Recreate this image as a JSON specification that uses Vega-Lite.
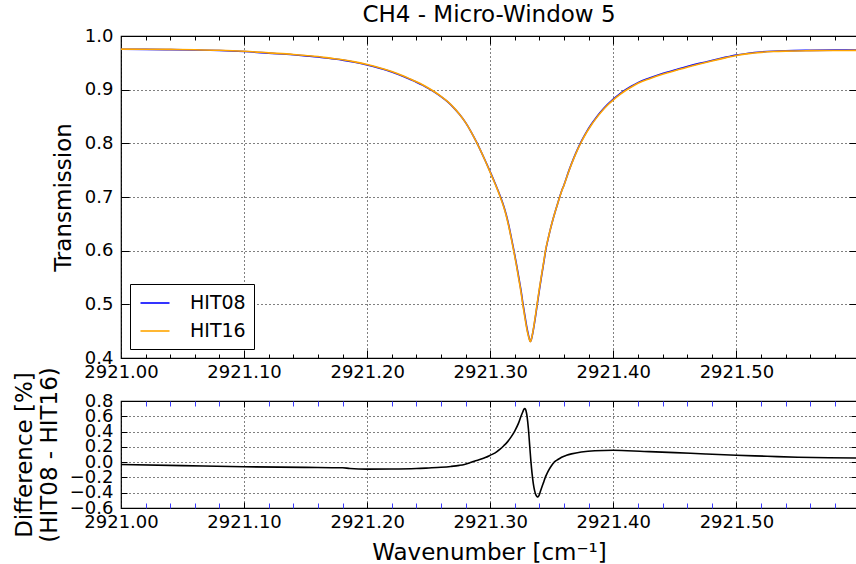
{
  "$schema": "https://vega.github.io/schema/vega-lite/v6.json",
  "background": "white",
  "padding": {"left": 12, "top": 3, "right": 0, "bottom": 0},
  "config": {
    "font": "DejaVu Sans",
    "view": {"stroke": "black", "strokeWidth": 1.2},
    "axis": {
      "labelFont": "DejaVu Sans", "labelFontSize": 18, "labelColor": "black",
      "titleFont": "DejaVu Sans", "titleFontSize": 23, "titleFontWeight": "normal", "titleColor": "black",
      "domain": false, "gridColor": "black", "gridDash": [1, 3], "gridWidth": 1, "gridOpacity": 1,
      "tickColor": "black", "tickWidth": 1, "labelOverlap": false, "labelFlush": false, "labelBound": false
    },
    "legend": {"labelFont": "DejaVu Sans"}
  },
  "datasets": {
    "trans": [
      {"wn": 2921.000, "series": "HIT08", "T": 0.9752},
      {"wn": 2921.020, "series": "HIT08", "T": 0.9750},
      {"wn": 2921.040, "series": "HIT08", "T": 0.9746},
      {"wn": 2921.060, "series": "HIT08", "T": 0.9740},
      {"wn": 2921.080, "series": "HIT08", "T": 0.9730},
      {"wn": 2921.100, "series": "HIT08", "T": 0.9710},
      {"wn": 2921.120, "series": "HIT08", "T": 0.9680},
      {"wn": 2921.140, "series": "HIT08", "T": 0.9650},
      {"wn": 2921.150, "series": "HIT08", "T": 0.9630},
      {"wn": 2921.160, "series": "HIT08", "T": 0.9610},
      {"wn": 2921.170, "series": "HIT08", "T": 0.9580},
      {"wn": 2921.180, "series": "HIT08", "T": 0.9550},
      {"wn": 2921.190, "series": "HIT08", "T": 0.9510},
      {"wn": 2921.200, "series": "HIT08", "T": 0.9460},
      {"wn": 2921.210, "series": "HIT08", "T": 0.9400},
      {"wn": 2921.220, "series": "HIT08", "T": 0.9330},
      {"wn": 2921.230, "series": "HIT08", "T": 0.9240},
      {"wn": 2921.235, "series": "HIT08", "T": 0.9190},
      {"wn": 2921.240, "series": "HIT08", "T": 0.9140},
      {"wn": 2921.245, "series": "HIT08", "T": 0.9085},
      {"wn": 2921.250, "series": "HIT08", "T": 0.9020},
      {"wn": 2921.255, "series": "HIT08", "T": 0.8950},
      {"wn": 2921.260, "series": "HIT08", "T": 0.8870},
      {"wn": 2921.265, "series": "HIT08", "T": 0.8780},
      {"wn": 2921.270, "series": "HIT08", "T": 0.8670},
      {"wn": 2921.275, "series": "HIT08", "T": 0.8540},
      {"wn": 2921.280, "series": "HIT08", "T": 0.8385},
      {"wn": 2921.284, "series": "HIT08", "T": 0.8233},
      {"wn": 2921.2886, "series": "HIT08", "T": 0.8035},
      {"wn": 2921.292, "series": "HIT08", "T": 0.7875},
      {"wn": 2921.296, "series": "HIT08", "T": 0.7675},
      {"wn": 2921.300, "series": "HIT08", "T": 0.7467},
      {"wn": 2921.304, "series": "HIT08", "T": 0.7251},
      {"wn": 2921.308, "series": "HIT08", "T": 0.7023},
      {"wn": 2921.311, "series": "HIT08", "T": 0.6828},
      {"wn": 2921.313, "series": "HIT08", "T": 0.6668},
      {"wn": 2921.315, "series": "HIT08", "T": 0.6478},
      {"wn": 2921.317, "series": "HIT08", "T": 0.6258},
      {"wn": 2921.319, "series": "HIT08", "T": 0.6028},
      {"wn": 2921.321, "series": "HIT08", "T": 0.5788},
      {"wn": 2921.323, "series": "HIT08", "T": 0.5528},
      {"wn": 2921.325, "series": "HIT08", "T": 0.5258},
      {"wn": 2921.3266, "series": "HIT08", "T": 0.5010},
      {"wn": 2921.328, "series": "HIT08", "T": 0.4810},
      {"wn": 2921.329, "series": "HIT08", "T": 0.4670},
      {"wn": 2921.330, "series": "HIT08", "T": 0.4540},
      {"wn": 2921.331, "series": "HIT08", "T": 0.4430},
      {"wn": 2921.332, "series": "HIT08", "T": 0.4340},
      {"wn": 2921.3325, "series": "HIT08", "T": 0.4310},
      {"wn": 2921.333, "series": "HIT08", "T": 0.4320},
      {"wn": 2921.334, "series": "HIT08", "T": 0.4400},
      {"wn": 2921.335, "series": "HIT08", "T": 0.4520},
      {"wn": 2921.336, "series": "HIT08", "T": 0.4660},
      {"wn": 2921.337, "series": "HIT08", "T": 0.4810},
      {"wn": 2921.3382, "series": "HIT08", "T": 0.5000},
      {"wn": 2921.340, "series": "HIT08", "T": 0.5280},
      {"wn": 2921.342, "series": "HIT08", "T": 0.5570},
      {"wn": 2921.3435, "series": "HIT08", "T": 0.5780},
      {"wn": 2921.345, "series": "HIT08", "T": 0.6000},
      {"wn": 2921.347, "series": "HIT08", "T": 0.6215},
      {"wn": 2921.349, "series": "HIT08", "T": 0.6410},
      {"wn": 2921.351, "series": "HIT08", "T": 0.6585},
      {"wn": 2921.353, "series": "HIT08", "T": 0.6745},
      {"wn": 2921.355, "series": "HIT08", "T": 0.6895},
      {"wn": 2921.3563, "series": "HIT08", "T": 0.6990},
      {"wn": 2921.358, "series": "HIT08", "T": 0.7111},
      {"wn": 2921.360, "series": "HIT08", "T": 0.7230},
      {"wn": 2921.364, "series": "HIT08", "T": 0.7496},
      {"wn": 2921.368, "series": "HIT08", "T": 0.7734},
      {"wn": 2921.371, "series": "HIT08", "T": 0.7893},
      {"wn": 2921.374, "series": "HIT08", "T": 0.8036},
      {"wn": 2921.378, "series": "HIT08", "T": 0.8204},
      {"wn": 2921.382, "series": "HIT08", "T": 0.8350},
      {"wn": 2921.386, "series": "HIT08", "T": 0.8478},
      {"wn": 2921.390, "series": "HIT08", "T": 0.8592},
      {"wn": 2921.395, "series": "HIT08", "T": 0.8717},
      {"wn": 2921.400, "series": "HIT08", "T": 0.8825},
      {"wn": 2921.405, "series": "HIT08", "T": 0.8918},
      {"wn": 2921.410, "series": "HIT08", "T": 0.8998},
      {"wn": 2921.415, "series": "HIT08", "T": 0.9068},
      {"wn": 2921.420, "series": "HIT08", "T": 0.9131},
      {"wn": 2921.430, "series": "HIT08", "T": 0.9221},
      {"wn": 2921.440, "series": "HIT08", "T": 0.9300},
      {"wn": 2921.450, "series": "HIT08", "T": 0.9365},
      {"wn": 2921.460, "series": "HIT08", "T": 0.9430},
      {"wn": 2921.470, "series": "HIT08", "T": 0.9490},
      {"wn": 2921.480, "series": "HIT08", "T": 0.9545},
      {"wn": 2921.490, "series": "HIT08", "T": 0.9597},
      {"wn": 2921.500, "series": "HIT08", "T": 0.9645},
      {"wn": 2921.510, "series": "HIT08", "T": 0.9680},
      {"wn": 2921.520, "series": "HIT08", "T": 0.9703},
      {"wn": 2921.530, "series": "HIT08", "T": 0.9717},
      {"wn": 2921.540, "series": "HIT08", "T": 0.9726},
      {"wn": 2921.560, "series": "HIT08", "T": 0.9733},
      {"wn": 2921.580, "series": "HIT08", "T": 0.9736},
      {"wn": 2921.598, "series": "HIT08", "T": 0.9737},
      {"wn": 2921.000, "series": "HIT16", "T": 0.9755},
      {"wn": 2921.020, "series": "HIT16", "T": 0.9754},
      {"wn": 2921.040, "series": "HIT16", "T": 0.9750},
      {"wn": 2921.060, "series": "HIT16", "T": 0.9745},
      {"wn": 2921.080, "series": "HIT16", "T": 0.9735},
      {"wn": 2921.100, "series": "HIT16", "T": 0.9716},
      {"wn": 2921.120, "series": "HIT16", "T": 0.9686},
      {"wn": 2921.140, "series": "HIT16", "T": 0.9656},
      {"wn": 2921.150, "series": "HIT16", "T": 0.9637},
      {"wn": 2921.160, "series": "HIT16", "T": 0.9617},
      {"wn": 2921.170, "series": "HIT16", "T": 0.9587},
      {"wn": 2921.180, "series": "HIT16", "T": 0.9557},
      {"wn": 2921.190, "series": "HIT16", "T": 0.9518},
      {"wn": 2921.200, "series": "HIT16", "T": 0.9469},
      {"wn": 2921.210, "series": "HIT16", "T": 0.9409},
      {"wn": 2921.220, "series": "HIT16", "T": 0.9338},
      {"wn": 2921.230, "series": "HIT16", "T": 0.9248},
      {"wn": 2921.235, "series": "HIT16", "T": 0.9198},
      {"wn": 2921.240, "series": "HIT16", "T": 0.9148},
      {"wn": 2921.245, "series": "HIT16", "T": 0.9092},
      {"wn": 2921.250, "series": "HIT16", "T": 0.9027},
      {"wn": 2921.255, "series": "HIT16", "T": 0.8956},
      {"wn": 2921.260, "series": "HIT16", "T": 0.8876},
      {"wn": 2921.265, "series": "HIT16", "T": 0.8785},
      {"wn": 2921.270, "series": "HIT16", "T": 0.8675},
      {"wn": 2921.275, "series": "HIT16", "T": 0.8544},
      {"wn": 2921.280, "series": "HIT16", "T": 0.8387},
      {"wn": 2921.284, "series": "HIT16", "T": 0.8234},
      {"wn": 2921.2886, "series": "HIT16", "T": 0.8033},
      {"wn": 2921.292, "series": "HIT16", "T": 0.7872},
      {"wn": 2921.296, "series": "HIT16", "T": 0.7670},
      {"wn": 2921.300, "series": "HIT16", "T": 0.7460},
      {"wn": 2921.304, "series": "HIT16", "T": 0.7242},
      {"wn": 2921.308, "series": "HIT16", "T": 0.7011},
      {"wn": 2921.311, "series": "HIT16", "T": 0.6813},
      {"wn": 2921.313, "series": "HIT16", "T": 0.6652},
      {"wn": 2921.315, "series": "HIT16", "T": 0.6460},
      {"wn": 2921.317, "series": "HIT16", "T": 0.6237},
      {"wn": 2921.319, "series": "HIT16", "T": 0.6005},
      {"wn": 2921.321, "series": "HIT16", "T": 0.5763},
      {"wn": 2921.323, "series": "HIT16", "T": 0.5499},
      {"wn": 2921.325, "series": "HIT16", "T": 0.5226},
      {"wn": 2921.3266, "series": "HIT16", "T": 0.4977},
      {"wn": 2921.328, "series": "HIT16", "T": 0.4776},
      {"wn": 2921.329, "series": "HIT16", "T": 0.4638},
      {"wn": 2921.330, "series": "HIT16", "T": 0.4513},
      {"wn": 2921.331, "series": "HIT16", "T": 0.4411},
      {"wn": 2921.332, "series": "HIT16", "T": 0.4331},
      {"wn": 2921.3325, "series": "HIT16", "T": 0.4306},
      {"wn": 2921.333, "series": "HIT16", "T": 0.4320},
      {"wn": 2921.334, "series": "HIT16", "T": 0.4407},
      {"wn": 2921.335, "series": "HIT16", "T": 0.4532},
      {"wn": 2921.336, "series": "HIT16", "T": 0.4677},
      {"wn": 2921.337, "series": "HIT16", "T": 0.4830},
      {"wn": 2921.3382, "series": "HIT16", "T": 0.5023},
      {"wn": 2921.340, "series": "HIT16", "T": 0.5303},
      {"wn": 2921.342, "series": "HIT16", "T": 0.5590},
      {"wn": 2921.3435, "series": "HIT16", "T": 0.5797},
      {"wn": 2921.345, "series": "HIT16", "T": 0.6013},
      {"wn": 2921.347, "series": "HIT16", "T": 0.6222},
      {"wn": 2921.349, "series": "HIT16", "T": 0.6414},
      {"wn": 2921.351, "series": "HIT16", "T": 0.6586},
      {"wn": 2921.353, "series": "HIT16", "T": 0.6744},
      {"wn": 2921.355, "series": "HIT16", "T": 0.6893},
      {"wn": 2921.3563, "series": "HIT16", "T": 0.6987},
      {"wn": 2921.358, "series": "HIT16", "T": 0.7106},
      {"wn": 2921.360, "series": "HIT16", "T": 0.7224},
      {"wn": 2921.364, "series": "HIT16", "T": 0.7489},
      {"wn": 2921.368, "series": "HIT16", "T": 0.7725},
      {"wn": 2921.371, "series": "HIT16", "T": 0.7883},
      {"wn": 2921.374, "series": "HIT16", "T": 0.8025},
      {"wn": 2921.378, "series": "HIT16", "T": 0.8192},
      {"wn": 2921.382, "series": "HIT16", "T": 0.8338},
      {"wn": 2921.386, "series": "HIT16", "T": 0.8465},
      {"wn": 2921.390, "series": "HIT16", "T": 0.8579},
      {"wn": 2921.395, "series": "HIT16", "T": 0.8704},
      {"wn": 2921.400, "series": "HIT16", "T": 0.8811},
      {"wn": 2921.405, "series": "HIT16", "T": 0.8904},
      {"wn": 2921.410, "series": "HIT16", "T": 0.8985},
      {"wn": 2921.415, "series": "HIT16", "T": 0.9055},
      {"wn": 2921.420, "series": "HIT16", "T": 0.9118},
      {"wn": 2921.430, "series": "HIT16", "T": 0.9208},
      {"wn": 2921.440, "series": "HIT16", "T": 0.9288},
      {"wn": 2921.450, "series": "HIT16", "T": 0.9353},
      {"wn": 2921.460, "series": "HIT16", "T": 0.9419},
      {"wn": 2921.470, "series": "HIT16", "T": 0.9479},
      {"wn": 2921.480, "series": "HIT16", "T": 0.9535},
      {"wn": 2921.490, "series": "HIT16", "T": 0.9588},
      {"wn": 2921.500, "series": "HIT16", "T": 0.9636},
      {"wn": 2921.510, "series": "HIT16", "T": 0.9672},
      {"wn": 2921.520, "series": "HIT16", "T": 0.9695},
      {"wn": 2921.530, "series": "HIT16", "T": 0.9710},
      {"wn": 2921.540, "series": "HIT16", "T": 0.9719},
      {"wn": 2921.560, "series": "HIT16", "T": 0.9727},
      {"wn": 2921.580, "series": "HIT16", "T": 0.9730},
      {"wn": 2921.598, "series": "HIT16", "T": 0.9732}
    ],
    "diff": [
      {"wn": 2921.000, "d": -0.030},
      {"wn": 2921.050, "d": -0.045},
      {"wn": 2921.100, "d": -0.060},
      {"wn": 2921.150, "d": -0.068},
      {"wn": 2921.180, "d": -0.073},
      {"wn": 2921.186, "d": -0.083},
      {"wn": 2921.200, "d": -0.091},
      {"wn": 2921.220, "d": -0.090},
      {"wn": 2921.240, "d": -0.084},
      {"wn": 2921.250, "d": -0.076},
      {"wn": 2921.260, "d": -0.067},
      {"wn": 2921.268, "d": -0.056},
      {"wn": 2921.275, "d": -0.042},
      {"wn": 2921.279, "d": -0.030},
      {"wn": 2921.283, "d": -0.012},
      {"wn": 2921.287, "d": 0.012},
      {"wn": 2921.2927, "d": 0.040},
      {"wn": 2921.296, "d": 0.060},
      {"wn": 2921.300, "d": 0.090},
      {"wn": 2921.304, "d": 0.122},
      {"wn": 2921.308, "d": 0.170},
      {"wn": 2921.311, "d": 0.215},
      {"wn": 2921.314, "d": 0.265},
      {"wn": 2921.317, "d": 0.330},
      {"wn": 2921.320, "d": 0.410},
      {"wn": 2921.323, "d": 0.510},
      {"wn": 2921.325, "d": 0.600},
      {"wn": 2921.3265, "d": 0.660},
      {"wn": 2921.3275, "d": 0.695},
      {"wn": 2921.328, "d": 0.702},
      {"wn": 2921.3287, "d": 0.690},
      {"wn": 2921.3295, "d": 0.640},
      {"wn": 2921.330, "d": 0.590},
      {"wn": 2921.331, "d": 0.440},
      {"wn": 2921.332, "d": 0.230},
      {"wn": 2921.333, "d": 0.020},
      {"wn": 2921.334, "d": -0.150},
      {"wn": 2921.335, "d": -0.280},
      {"wn": 2921.336, "d": -0.370},
      {"wn": 2921.337, "d": -0.425},
      {"wn": 2921.338, "d": -0.450},
      {"wn": 2921.3388, "d": -0.455},
      {"wn": 2921.3395, "d": -0.440},
      {"wn": 2921.341, "d": -0.370},
      {"wn": 2921.343, "d": -0.280},
      {"wn": 2921.345, "d": -0.190},
      {"wn": 2921.347, "d": -0.120},
      {"wn": 2921.3496, "d": -0.050},
      {"wn": 2921.352, "d": 0.000},
      {"wn": 2921.355, "d": 0.035},
      {"wn": 2921.358, "d": 0.065},
      {"wn": 2921.362, "d": 0.090},
      {"wn": 2921.366, "d": 0.108},
      {"wn": 2921.374, "d": 0.133},
      {"wn": 2921.385, "d": 0.150},
      {"wn": 2921.400, "d": 0.155},
      {"wn": 2921.425, "d": 0.140},
      {"wn": 2921.450, "d": 0.125},
      {"wn": 2921.475, "d": 0.107},
      {"wn": 2921.500, "d": 0.090},
      {"wn": 2921.525, "d": 0.077},
      {"wn": 2921.550, "d": 0.065},
      {"wn": 2921.575, "d": 0.058},
      {"wn": 2921.598, "d": 0.055}
    ]
  },
  "bounds": "flush",
  "spacing": 43,
  "resolve": {"scale": {"color": "independent"}, "legend": {"color": "independent"}},
  "vconcat": [
    {
      "width": 736,
      "height": 322,
      "title": {"text": "CH4 - Micro-Window 5", "fontSize": 23, "fontWeight": "normal", "color": "black", "font": "DejaVu Sans", "anchor": "middle", "frame": "group", "offset": 0},
      "data": {"name": "trans"},
      "encoding": {
        "x": {"field": "wn", "type": "quantitative", "scale": {"domain": [2921.0, 2921.598], "nice": false, "zero": false}},
        "y": {"field": "T", "type": "quantitative", "scale": {"domain": [0.4, 1.0], "nice": false, "zero": false}}
      },
      "resolve": {"axis": {"x": "independent", "y": "independent"}},
      "layer": [
        {
          "mark": {"type": "line", "strokeOpacity": 0},
          "encoding": {
            "x": {"field": "wn", "type": "quantitative", "axis": {"orient": "bottom", "values": [2921.02, 2921.04, 2921.06, 2921.08, 2921.12, 2921.14, 2921.16, 2921.18, 2921.22, 2921.24, 2921.26, 2921.28, 2921.32, 2921.34, 2921.36, 2921.38, 2921.42, 2921.44, 2921.46, 2921.48, 2921.52, 2921.54, 2921.56, 2921.58], "labels": false, "grid": false, "tickSize": -4, "title": null}},
            "y": {"field": "T", "type": "quantitative", "axis": {"orient": "right", "values": [0.5, 0.6, 0.7, 0.8, 0.9], "labels": false, "grid": false, "tickSize": -8, "title": null}}
          }
        },
        {
          "mark": {"type": "line", "strokeOpacity": 0},
          "encoding": {
            "x": {"field": "wn", "type": "quantitative", "axis": {"orient": "top", "values": [2921.02, 2921.04, 2921.06, 2921.08, 2921.12, 2921.14, 2921.16, 2921.18, 2921.22, 2921.24, 2921.26, 2921.28, 2921.32, 2921.34, 2921.36, 2921.38, 2921.42, 2921.44, 2921.46, 2921.48, 2921.52, 2921.54, 2921.56, 2921.58], "labels": false, "grid": false, "tickSize": -4, "title": null}},
            "y": {"field": "T", "type": "quantitative", "axis": {"orient": "left", "values": [0.5, 0.6, 0.7, 0.8, 0.9], "labels": false, "grid": false, "tickSize": -8, "title": null}}
          }
        },
        {
          "mark": {"type": "line", "strokeOpacity": 0},
          "encoding": {
            "x": {"field": "wn", "type": "quantitative", "axis": {"orient": "top", "values": [2921.1, 2921.2, 2921.3, 2921.4, 2921.5], "labels": false, "grid": false, "tickSize": -8, "title": null}},
            "y": {"field": "T", "type": "quantitative", "axis": null}
          }
        },
        {
          "mark": {"type": "line", "strokeOpacity": 0},
          "encoding": {
            "x": {"field": "wn", "type": "quantitative", "axis": {"orient": "bottom", "values": [2921.1, 2921.2, 2921.3, 2921.4, 2921.5], "labels": false, "grid": false, "tickSize": -8, "title": null}},
            "y": {"field": "T", "type": "quantitative", "axis": null}
          }
        },
        {
          "mark": {"type": "line", "strokeWidth": 1.6, "interpolate": "monotone"},
          "encoding": {
            "x": {"field": "wn", "type": "quantitative", "axis": {"orient": "bottom", "values": [2921.0, 2921.1, 2921.2, 2921.3, 2921.4, 2921.5], "format": ".2f", "ticks": false, "grid": true, "labelPadding": 5, "title": null}},
            "y": {"field": "T", "type": "quantitative", "axis": {"orient": "left", "values": [0.4, 0.5, 0.6, 0.7, 0.8, 0.9, 1.0], "format": ".1f", "ticks": false, "grid": true, "labelPadding": 8, "title": "Transmission", "titlePadding": 9}},
            "color": {
              "field": "series", "type": "nominal",
              "scale": {"domain": ["HIT08", "HIT16"], "range": ["#0000ff", "#ffa500"]},
              "legend": {
                "title": null, "orient": "bottom-left", "offset": 9,
                "strokeColor": "black", "fillColor": "white", "padding": 8, "cornerRadius": 0,
                "symbolType": "M-1.45,0H1.45", "symbolSize": 400, "symbolStrokeWidth": 1.6, "symbolOffset": 6,
                "labelFontSize": 19, "labelColor": "black", "labelOffset": 24, "rowPadding": 7
              }
            }
          }
        }
      ]
    },
    {
      "width": 736,
      "height": 107,
      "data": {"name": "diff"},
      "encoding": {
        "x": {"field": "wn", "type": "quantitative", "scale": {"domain": [2921.0, 2921.598], "nice": false, "zero": false}},
        "y": {"field": "d", "type": "quantitative", "scale": {"domain": [-0.6, 0.8], "nice": false, "zero": false}}
      },
      "resolve": {"axis": {"x": "independent", "y": "independent"}},
      "layer": [
        {
          "mark": {"type": "line", "strokeOpacity": 0},
          "encoding": {
            "x": {"field": "wn", "type": "quantitative", "axis": {"orient": "bottom", "values": [2921.02, 2921.04, 2921.06, 2921.08, 2921.12, 2921.14, 2921.16, 2921.18, 2921.22, 2921.24, 2921.26, 2921.28, 2921.32, 2921.34, 2921.36, 2921.38, 2921.42, 2921.44, 2921.46, 2921.48, 2921.52, 2921.54, 2921.56, 2921.58], "labels": false, "grid": false, "tickSize": -5, "tickColor": "#3c3cff", "title": null}},
            "y": {"field": "d", "type": "quantitative", "axis": {"orient": "right", "values": [-0.4, -0.2, 0.0, 0.2, 0.4, 0.6], "labels": false, "grid": false, "tickSize": -6, "title": null}}
          }
        },
        {
          "mark": {"type": "line", "strokeOpacity": 0},
          "encoding": {
            "x": {"field": "wn", "type": "quantitative", "axis": {"orient": "top", "values": [2921.02, 2921.04, 2921.06, 2921.08, 2921.12, 2921.14, 2921.16, 2921.18, 2921.22, 2921.24, 2921.26, 2921.28, 2921.32, 2921.34, 2921.36, 2921.38, 2921.42, 2921.44, 2921.46, 2921.48, 2921.52, 2921.54, 2921.56, 2921.58], "labels": false, "grid": false, "tickSize": -5, "tickColor": "#3c3cff", "title": null}},
            "y": {"field": "d", "type": "quantitative", "axis": {"orient": "left", "values": [-0.4, -0.2, 0.0, 0.2, 0.4, 0.6], "labels": false, "grid": false, "tickSize": -6, "title": null}}
          }
        },
        {
          "mark": {"type": "line", "strokeOpacity": 0},
          "encoding": {
            "x": {"field": "wn", "type": "quantitative", "axis": {"orient": "top", "values": [2921.1, 2921.2, 2921.3, 2921.4, 2921.5], "labels": false, "grid": false, "tickSize": -6, "title": null}},
            "y": {"field": "d", "type": "quantitative", "axis": null}
          }
        },
        {
          "mark": {"type": "line", "strokeOpacity": 0},
          "encoding": {
            "x": {"field": "wn", "type": "quantitative", "axis": {"orient": "bottom", "values": [2921.1, 2921.2, 2921.3, 2921.4, 2921.5], "labels": false, "grid": false, "tickSize": -6, "title": null}},
            "y": {"field": "d", "type": "quantitative", "axis": null}
          }
        },
        {
          "mark": {"type": "line", "strokeWidth": 1.6, "color": "black", "interpolate": "monotone"},
          "encoding": {
            "x": {"field": "wn", "type": "quantitative", "axis": {"orient": "bottom", "values": [2921.0, 2921.1, 2921.2, 2921.3, 2921.4, 2921.5], "format": ".2f", "ticks": false, "grid": true, "labelPadding": 5, "title": "Wavenumber [cm⁻¹]", "titlePadding": 10}},
            "y": {"field": "d", "type": "quantitative", "axis": {"orient": "left", "values": [-0.6, -0.4, -0.2, 0.0, 0.2, 0.4, 0.6, 0.8], "format": ".1f", "ticks": false, "grid": true, "labelPadding": 8, "title": ["Difference [%]", "(HIT08 - HIT16)"], "titleLineHeight": 25, "titlePadding": 8}}
          }
        }
      ]
    }
  ]
}
